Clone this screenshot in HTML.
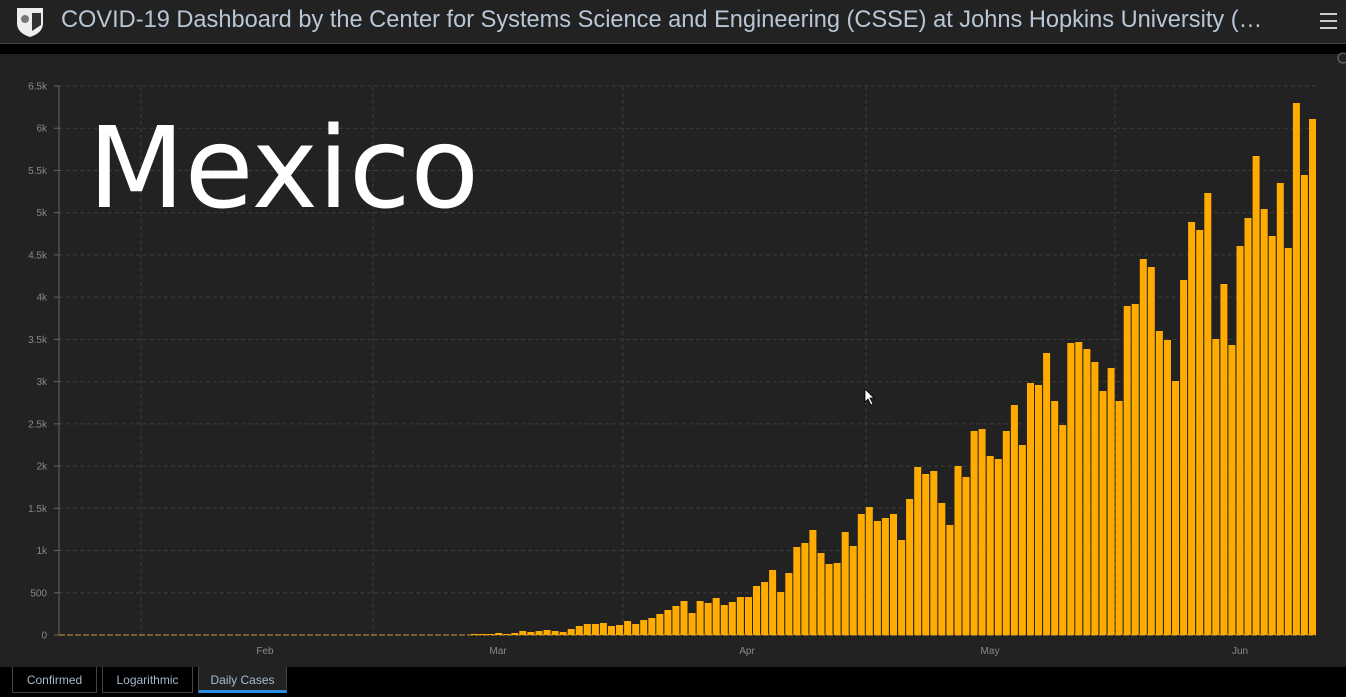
<!DOCTYPE html>
<html><head><meta charset="utf-8"><style>
body{margin:0;width:1346px;height:697px;background:#000;overflow:hidden;font-family:"Liberation Sans",sans-serif;position:relative}
.hdr{position:absolute;left:0;top:0;width:1346px;height:43px;background:#222;border-bottom:1px solid #444}
.title{position:absolute;left:61px;top:7px;font-size:23.6px;color:#b8c6d6;white-space:nowrap}
.panel{position:absolute;left:0;top:54px;width:1346px;height:613px;background:#222}
.tab{position:absolute;top:667px;height:26px;border:1px solid #444;border-top:none;color:#a4b8ce;font-size:12px;line-height:26px;text-align:center;box-sizing:border-box}
</style></head><body>
<div class="hdr">
<svg style="position:absolute;left:15px;top:5px" width="30" height="33" viewBox="0 0 30 33"><path d="M2 3 H28 V18 Q28 28 15 32 Q2 28 2 18 Z" fill="#eee"/><circle cx="10" cy="14" r="4" fill="#777"/><path d="M17 8 H26 V20 L17 26Z" fill="#333"/></svg>
<div class="title">COVID-19 Dashboard by the Center for Systems Science and Engineering (CSSE) at Johns Hopkins University (…</div>
<div style="position:absolute;left:1320px;top:13px;width:17px;height:2px;background:#ccc;box-shadow:0 7px 0 #ccc,0 14px 0 #ccc"></div>
</div>
<div class="panel"></div>
<svg id="c" style="position:absolute;left:0;top:0" width="1346" height="697"></svg>
<div style="position:absolute;left:88px;top:104px;font-family:'DejaVu Sans',sans-serif;font-size:112px;color:#fff;line-height:130px">Mexico</div>
<div class="tab" style="left:12px;width:85px">Confirmed</div>
<div class="tab" style="left:102px;width:91px">Logarithmic</div>
<div class="tab" style="left:198px;width:89px;background:#222;color:#a8bcd2;border-bottom:3px solid #2a8be0">Daily Cases</div>
<script>
var s='',g='#3c3c3c';
var labels=['0','500','1k','1.5k','2k','2.5k','3k','3.5k','4k','4.5k','5k','5.5k','6k','6.5k'];
for(var i=0;i<14;i++){var y=635-i*549/13;
 if(i>0)s+='<line x1="59" x2="1316" y1="'+y+'" y2="'+y+'" stroke="'+g+'" stroke-dasharray="4,3"/>';
 s+='<line x1="54" x2="59" y1="'+y+'" y2="'+y+'" stroke="#666"/>';
 s+='<text x="47" y="'+(y+3.5)+'" fill="#8a8a8a" font-size="10" text-anchor="end" font-family="Liberation Sans">'+labels[i]+'</text>';}
[141,373,623,866,1115].forEach(function(x){s+='<line x1="'+x+'" x2="'+x+'" y1="86" y2="640" stroke="'+g+'" stroke-dasharray="4,3"/>';});
[['Feb',265],['Mar',498],['Apr',747],['May',990],['Jun',1240]].forEach(function(m){s+='<text x="'+m[1]+'" y="654" fill="#8a8a8a" font-size="10" text-anchor="middle" font-family="Liberation Sans">'+m[0]+'</text>';});
s+='<line x1="59" x2="59" y1="86" y2="635" stroke="#666"/>';
s+='<line x1="59" x2="1316" y1="635" y2="635" stroke="#c89a3a" stroke-dasharray="6,2"/>';
var t=[634,634,634,633,634,633,631,632,631,630,631,632,629,626,624,624,623,626,625,621,624,620,618,614,610,606,601,613,601,603,598,605,602,597,597,586,582,570,592,573,547,543,530,553,564,563,532,546,
514,507,521,518,514,540,499,467,474,471,503,525,466,477,431,429,456,459,431,405,445,383,385,353,401,425,343,342,349,362,391,368,
401,306,304,259,267,331,340,381,280,222,230,193,339,284,345,246,218,156,209,236,183,248,103,175,119];
var p=(1309-471)/(t.length-1);
for(var k=0;k<t.length;k++){var x=471+k*p;s+='<rect x="'+x.toFixed(1)+'" y="'+t[k]+'" width="7" height="'+(635-t[k])+'" fill="#ffab00"/>';}
s+='<path d="M865 389 L865 402 L868 399 L871 405 L873 404 L870 398 L874 398 Z" fill="#fff" stroke="#000" stroke-width="0.8"/>';
s+='<circle cx="1343" cy="58" r="5" fill="none" stroke="#777"/>';
document.getElementById('c').innerHTML=s;
</script>
</body></html>
